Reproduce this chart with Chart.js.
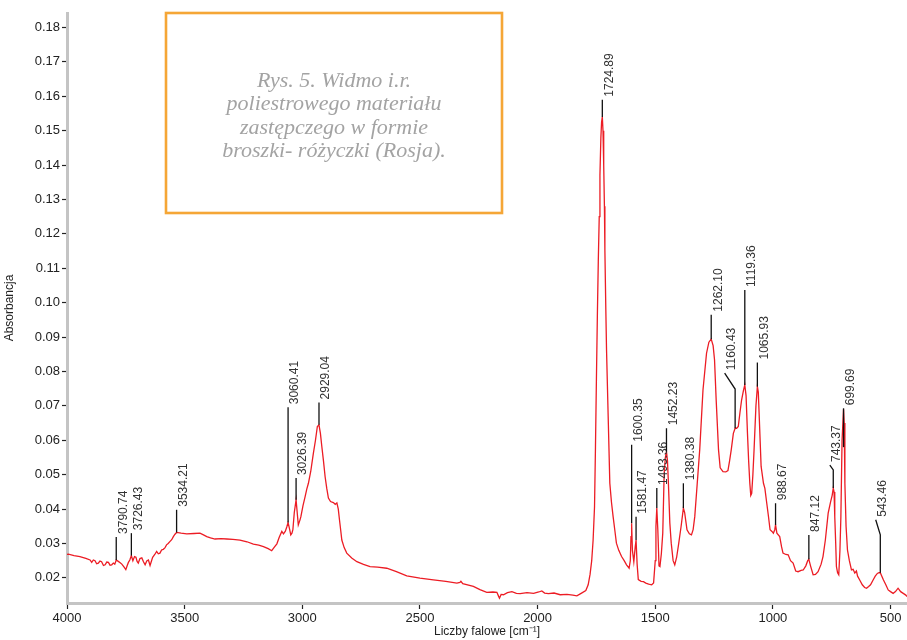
<!DOCTYPE html>
<html>
<head>
<meta charset="utf-8">
<script src="https://cdn.jsdelivr.net/npm/chart.js@4.4.1/dist/chart.umd.min.js"></script>
<style>
  html, body { margin: 0; padding: 0; background: #fff; }
  canvas { display: block; }
</style>
</head>
<body>
<canvas id="chart" width="907" height="640"></canvas>
<script>
"use strict";

// spectrum (cm-1 / absorbance)
const wavenumbers = [
  4000, 3994, 3970, 3945, 3920, 3902, 3895, 3888, 3881, 3874, 3867, 3860, 3853, 3845, 3838, 3831, 3824, 3817, 3810, 3803,
  3797, 3790.74, 3782, 3774, 3767, 3758, 3750, 3744, 3739, 3733, 3726.43, 3720, 3713, 3707, 3702, 3697, 3690, 3682, 3675, 3668,
  3661, 3654, 3647, 3641, 3636, 3627, 3619, 3612, 3605, 3598, 3591, 3584, 3577, 3570, 3562, 3555, 3548, 3541, 3534.21, 3515,
  3491, 3460, 3435, 3420, 3406, 3390, 3371, 3345, 3321, 3295, 3265, 3235, 3208, 3185, 3165, 3145, 3130, 3118, 3108, 3098,
  3087, 3080, 3072, 3066, 3060.41, 3054, 3049, 3044, 3040, 3034, 3026.39, 3021, 3017, 3010, 3006, 2997, 2988, 2981, 2974, 2964,
  2953, 2944, 2936, 2929.04, 2923, 2917, 2910, 2903, 2896, 2889, 2880, 2868, 2860, 2853, 2847, 2842, 2837, 2832, 2822, 2811,
  2790, 2768, 2740, 2712, 2680, 2641, 2600, 2556, 2500, 2443, 2390, 2343, 2330, 2326, 2318, 2273, 2245, 2216, 2190, 2173,
  2166, 2162, 2155, 2145, 2128, 2109, 2090, 2074, 2045, 2017, 1995, 1982, 1970, 1954, 1930, 1904, 1875, 1850, 1833, 1815,
  1795, 1785, 1777, 1770, 1764, 1758, 1754, 1750, 1746, 1742, 1738, 1735, 1731, 1728, 1724.89, 1722, 1720, 1718, 1716, 1714,
  1710, 1707, 1700, 1693, 1686, 1679, 1672, 1665, 1655, 1643, 1632, 1622, 1611, 1606, 1603, 1600.35, 1597, 1591, 1585, 1581.47,
  1577, 1572, 1560, 1550, 1540, 1528, 1515, 1507, 1500, 1497, 1493.36, 1489, 1484, 1480, 1474, 1468, 1462, 1457, 1452.23, 1448,
  1444, 1438, 1432, 1424, 1417, 1409, 1400, 1390, 1380.38, 1375, 1369, 1365, 1355, 1346, 1339, 1332, 1322, 1311, 1297, 1282,
  1272, 1262.10, 1254, 1248, 1241, 1231, 1224, 1212, 1200, 1191, 1184, 1177, 1168, 1160.43, 1154, 1147, 1140, 1133, 1125, 1119.36,
  1114, 1108, 1103, 1098, 1094, 1090, 1085, 1080, 1072, 1065.93, 1062, 1058, 1050, 1040, 1034, 1026, 1019, 1012, 1004, 998,
  992, 988.67, 983, 971, 963, 957, 945, 935, 925, 914, 903, 893, 880, 871, 860, 852, 847.12, 840, 829, 819,
  808, 795, 787, 777, 765, 755, 748, 743.37, 740, 737, 733, 730, 725, 720, 715, 711, 706, 699.69, 697, 694,
  689, 683, 675, 666, 659, 652, 645, 640, 631, 620, 610, 602, 593, 585, 574, 565, 556, 549, 543.46, 537,
  530, 520, 510, 500, 489, 479, 468, 457, 446, 435, 430
];
const absorbance = [
  0.0268, 0.0269, 0.0265, 0.0262, 0.0257, 0.0252, 0.0245, 0.0252, 0.0250, 0.0241, 0.0243, 0.0249, 0.0247, 0.0236, 0.0238, 0.0246, 0.0245, 0.0237, 0.0238, 0.0243,
  0.0240, 0.0252, 0.0248, 0.0244, 0.0240, 0.0232, 0.0224, 0.0236, 0.0245, 0.0252, 0.0265, 0.0250, 0.0262, 0.0260, 0.0248, 0.0243, 0.0256, 0.0258, 0.0247, 0.0238,
  0.0249, 0.0252, 0.0236, 0.0249, 0.0260, 0.0268, 0.0277, 0.0270, 0.0272, 0.0281, 0.0283, 0.0287, 0.0296, 0.0300, 0.0306, 0.0311, 0.0320, 0.0327, 0.0332, 0.0330,
  0.0328, 0.0329, 0.0330, 0.0325, 0.0320, 0.0316, 0.0313, 0.0314, 0.0313, 0.0312, 0.0310, 0.0305, 0.0298, 0.0295, 0.0291, 0.0285, 0.0279, 0.0290, 0.0299, 0.0318,
  0.0335, 0.0328, 0.0336, 0.0348, 0.0361, 0.0342, 0.0325, 0.0330, 0.0340, 0.0390, 0.0427, 0.0385, 0.0354, 0.0368, 0.0378, 0.0410, 0.0436, 0.0458, 0.0475, 0.0510,
  0.0562, 0.0600, 0.0640, 0.0645, 0.0620, 0.0582, 0.0540, 0.0494, 0.0460, 0.0432, 0.0422, 0.0419, 0.0414, 0.0418, 0.0400, 0.0369, 0.0340, 0.0310, 0.0288, 0.0272,
  0.0258, 0.0247, 0.0239, 0.0233, 0.0231, 0.0228, 0.0218, 0.0206, 0.0199, 0.0194, 0.0190, 0.0185, 0.0187, 0.0190, 0.0183, 0.0175, 0.0166, 0.0158, 0.0159, 0.0158,
  0.0147, 0.0141, 0.0152, 0.0151, 0.0157, 0.0160, 0.0155, 0.0154, 0.0157, 0.0155, 0.0159, 0.0162, 0.0156, 0.0154, 0.0156, 0.0151, 0.0152, 0.0150, 0.0148, 0.0155,
  0.0163, 0.0180, 0.0210, 0.0250, 0.0310, 0.0407, 0.0580, 0.0776, 0.0960, 0.1120, 0.1250, 0.1370, 0.1480, 0.1525, 0.1540, 0.1500, 0.1460, 0.1400, 0.1280, 0.1153,
  0.0980, 0.0863, 0.0669, 0.0475, 0.0420, 0.0378, 0.0340, 0.0301, 0.0280, 0.0262, 0.0250, 0.0238, 0.0228, 0.0250, 0.0320, 0.0359, 0.0280, 0.0247, 0.0290, 0.0310,
  0.0240, 0.0195, 0.0190, 0.0189, 0.0185, 0.0182, 0.0180, 0.0185, 0.0250, 0.0350, 0.0403, 0.0340, 0.0235, 0.0233, 0.0270, 0.0330, 0.0504, 0.0550, 0.0567, 0.0540,
  0.0475, 0.0360, 0.0301, 0.0250, 0.0238, 0.0260, 0.0301, 0.0350, 0.0403, 0.0390, 0.0360, 0.0340, 0.0328, 0.0325, 0.0340, 0.0378, 0.0470, 0.0572, 0.0747, 0.0853,
  0.0885, 0.0894, 0.0875, 0.0834, 0.0717, 0.0572, 0.0520, 0.0509, 0.0508, 0.0512, 0.0540, 0.0572, 0.0620, 0.0635, 0.0635, 0.0640, 0.0680, 0.0717, 0.0745, 0.0761,
  0.0730, 0.0620, 0.0540, 0.0475, 0.0440, 0.0446, 0.0500, 0.0572, 0.0700, 0.0756, 0.0740, 0.0669, 0.0524, 0.0475, 0.0460, 0.0417, 0.0380, 0.0340, 0.0335, 0.0330,
  0.0340, 0.0354, 0.0330, 0.0320, 0.0290, 0.0272, 0.0268, 0.0267, 0.0250, 0.0243, 0.0220, 0.0218, 0.0222, 0.0223, 0.0235, 0.0250, 0.0254, 0.0235, 0.0209, 0.0210,
  0.0218, 0.0240, 0.0262, 0.0310, 0.0388, 0.0420, 0.0440, 0.0461, 0.0450, 0.0378, 0.0300, 0.0233, 0.0215, 0.0209, 0.0280, 0.0378, 0.0600, 0.0690, 0.0650, 0.0475,
  0.0350, 0.0281, 0.0250, 0.0223, 0.0225, 0.0214, 0.0220, 0.0205, 0.0194, 0.0180, 0.0172, 0.0170, 0.0175, 0.0180, 0.0194, 0.0205, 0.0213, 0.0215, 0.0215, 0.0205,
  0.0194, 0.0180, 0.0165, 0.0160, 0.0155, 0.0160, 0.0170, 0.0160, 0.0155, 0.0150, 0.0146
];

const xTicks = [4000, 3500, 3000, 2500, 2000, 1500, 1000, 500];
const yTicks = [0.02, 0.03, 0.04, 0.05, 0.06, 0.07, 0.08, 0.09, 0.10, 0.11, 0.12, 0.13, 0.14, 0.15, 0.16, 0.17, 0.18];

// marked peaks: leader runs from peakBase up to peakTop
const peakPositions = [3790.74, 3726.43, 3534.21, 3060.41, 3026.39, 2929.04, 1724.89, 1600.35, 1581.47, 1493.36, 1452.23,
  1380.38, 1262.10, 1160.43, 1119.36, 1065.93, 988.67, 847.12, 743.37, 699.69, 543.46];
const peakBase = [0.0252, 0.0265, 0.0332, 0.0361, 0.0427, 0.0645, 0.1540, 0.0359, 0.0310, 0.0403, 0.0567,
  0.0403, 0.0894, 0.0635, 0.0761, 0.0756, 0.0354, 0.0254, 0.0461, 0.0580, 0.0215];
const peakTop = [0.0319, 0.0330, 0.0398, 0.0696, 0.0490, 0.0710, 0.1590, 0.0587, 0.0378, 0.0461, 0.0635,
  0.0475, 0.0965, 0.0749, 0.1037, 0.0826, 0.0417, 0.0325, 0.0514, 0.0693, 0.0325];
const bentPeaks = [1160.43, 743.37, 543.46];
const bentEndX = [1205, 758, 563];
const bentEndY = [0.0795, 0.0528, 0.0369];

const captionLines = ['Rys. 5. Widmo i.r.', 'poliestrowego materiału', 'zastępczego w formie', 'broszki- różyczki (Rosja).'];

const FONT = '"Liberation Sans", Arial, sans-serif';

const peakLabels = {
  id: 'peakLabels',
  afterDatasetsDraw(chart) {
    const { ctx } = chart;
    const x = chart.scales.x, y = chart.scales.y;
    ctx.save();
    ctx.strokeStyle = '#111';
    ctx.lineWidth = 1.3;
    ctx.fillStyle = '#333';
    ctx.font = '12px ' + FONT;
    ctx.textAlign = 'left';
    ctx.textBaseline = 'middle';
    peakPositions.forEach((w, i) => {
      const px = x.getPixelForValue(w);
      let endX = px;
      let endY = y.getPixelForValue(peakTop[i]);
      ctx.beginPath();
      ctx.moveTo(px, y.getPixelForValue(peakBase[i]));
      ctx.lineTo(endX, endY);
      const b = bentPeaks.indexOf(w);
      if (b >= 0) {
        endX = x.getPixelForValue(bentEndX[b]);
        endY = y.getPixelForValue(bentEndY[b]);
        ctx.lineTo(endX, endY);
      }
      ctx.stroke();
      ctx.save();
      ctx.translate(endX + 7, endY - 3);
      ctx.rotate(-Math.PI / 2);
      ctx.fillText(w.toFixed(2), 0, 0);
      ctx.restore();
    });
    ctx.restore();
  }
};

const caption = {
  id: 'caption',
  afterDraw(chart) {
    const { ctx } = chart;
    ctx.save();
    ctx.strokeStyle = '#f5a636';
    ctx.lineWidth = 2.6;
    ctx.strokeRect(166, 13, 336, 200);
    ctx.fillStyle = '#a3a3a3';
    ctx.font = 'italic 22px "Liberation Serif", "DejaVu Serif", serif';
    ctx.textAlign = 'center';
    ctx.textBaseline = 'alphabetic';
    captionLines.forEach((line, i) => ctx.fillText(line, 334, 87 + i * 23.3));
    ctx.restore();
  }
};

new Chart(document.getElementById('chart'), {
  type: 'scatter',
  data: {
    datasets: [{
      data: wavenumbers.map((w, i) => ({ x: w, y: absorbance[i] })),
      showLine: true,
      borderColor: '#ec1c24',
      borderWidth: 1.3,
      pointRadius: 0,
      tension: 0
    }]
  },
  options: {
    responsive: false,
    animation: false,
    layout: { padding: { top: 13, right: 0, left: 0, bottom: 0 } },
    scales: {
      x: {
        type: 'linear',
        reverse: true,
        min: 430,
        max: 4000,
        afterBuildTicks: (scale) => { scale.ticks = xTicks.map(v => ({ value: v })); },
        afterFit: (scale) => { scale.height = 37; },
        ticks: { color: '#222', font: { size: 13, family: FONT }, padding: 2, maxRotation: 0, callback: (v) => String(v) },
        grid: { drawOnChartArea: false, drawTicks: true, tickLength: 6, tickColor: '#222', tickWidth: 1.2 },
        border: { color: '#c4c4c4', width: 3 },
        title: { display: true, text: 'Liczby falowe [cm⁻¹]', color: '#222', font: { size: 12, family: FONT }, padding: { top: 0, bottom: 1 } }
      },
      y: {
        min: 0.0127,
        max: 0.1842,
        afterBuildTicks: (scale) => { scale.ticks = yTicks.map(v => ({ value: v })); },
        afterFit: (scale) => { scale.width = 67; },
        ticks: { color: '#222', font: { size: 13, family: FONT }, padding: 2, callback: (v) => v.toFixed(2) },
        grid: { drawOnChartArea: false, drawTicks: true, tickLength: 5, tickColor: '#222', tickWidth: 1.2 },
        border: { color: '#c4c4c4', width: 3 },
        title: { display: true, text: 'Absorbancja', color: '#222', font: { size: 12, family: FONT }, padding: { top: 2, bottom: 0 } }
      }
    },
    plugins: {
      legend: { display: false },
      tooltip: { enabled: false }
    }
  },
  plugins: [peakLabels, caption]
});
</script>
</body>
</html>
